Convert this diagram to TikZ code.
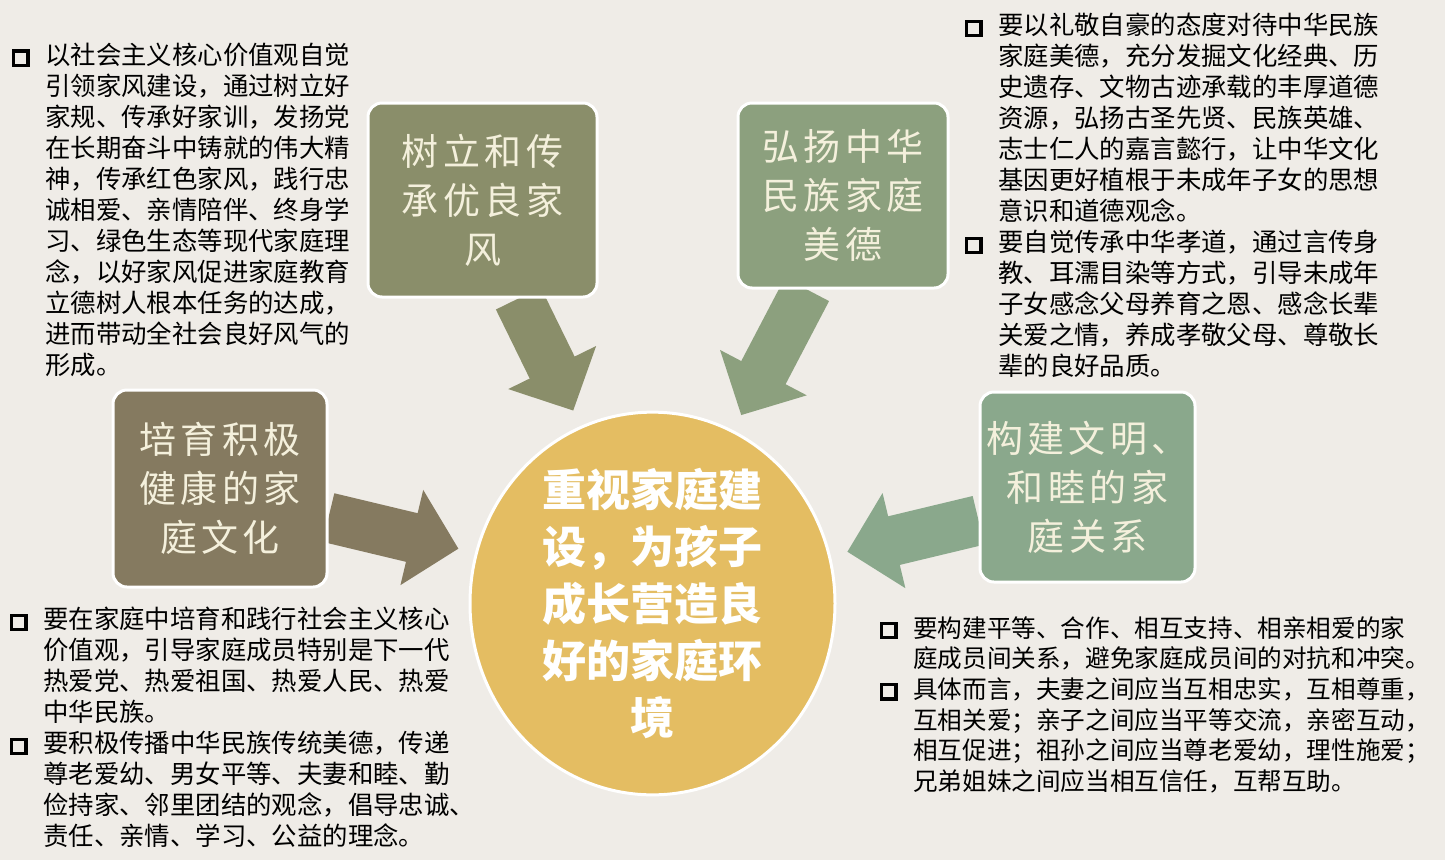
\documentclass[tikz,border=0pt]{standalone}
\usepackage{fontspec}
\usepackage{tikz}
\usetikzlibrary{arrows.meta, shapes.geometric, backgrounds}
\definecolor{paper}{HTML}{EFECE7}
\definecolor{olivebox}{HTML}{8A8E6A}
\definecolor{sagebox}{HTML}{8CA07E}
\definecolor{brownbox}{HTML}{857A60}
\definecolor{mintbox}{HTML}{8AA88C}
\definecolor{mustard}{HTML}{E4BD62}
\definecolor{cream}{HTML}{F4F0DC}
\newfontfamily\hei{Noto Sans CJK SC}
\newfontfamily\boxfont{Noto Sans CJK SC}[LetterSpace=12]
\newcommand{\sqbul}{\raisebox{1pt}{\setlength{\fboxrule}{3.2pt}\setlength{\fboxsep}{0pt}\fbox{\rule{0pt}{11pt}\hspace{11pt}}}}
\newcommand{\bl}{\makebox[33pt][l]{\sqbul}}
\newcommand{\ind}{\hspace*{33pt}}
\tikzset{
  topic/.style={draw=white, line width=3pt, rounded corners=14pt, text=cream,
    font=\boxfont\fontsize{37}{49}\selectfont, align=center, inner sep=0pt},
  notes/.style={anchor=north west, align=left, inner sep=0pt,
    font=\hei\fontsize{25.4}{31}\selectfont},
  flow/.style={line width=50pt, -{Triangle[length=48pt, width=95pt]}, shorten >=17pt},
}
\begin{document}
\begin{tikzpicture}[x=1pt, y=-1pt]
  \useasboundingbox (0,0) rectangle (1445,860);
  % --- four topic boxes round the hub ---
  \node[topic, fill=olivebox, minimum width=229pt, minimum height=194pt] (feng) at (482.5,200) {树立和传\\承优良家\\风};
  \node[topic, fill=sagebox, minimum width=210pt, minimum height=185pt] (mei) at (843,195.5) {弘扬中华\\民族家庭\\美德};
  \node[topic, fill=brownbox, minimum width=214pt, minimum height=197pt] (wenhua) at (220,488.5) {培育积极\\健康的家\\庭文化};
  \node[topic, fill=mintbox, minimum width=215pt, minimum height=190pt] (guanxi) at (1087.5,487) {构建文明、\\和睦的家\\庭关系};
  % --- hub ---
  \node[ellipse, draw=white, line width=3pt, fill=mustard, text=white, align=center,
    minimum width=365pt, minimum height=343pt, inner sep=0pt,
    font=\hei\bfseries\fontsize{44}{57}\selectfont] (huanjing) at (652.5,603.5)
    {重视家庭建\\设，为孩子\\成长营造良\\好的家庭环\\境};
  % --- block arrows (under the boxes) ---
  \begin{scope}[on background layer]
    \fill[paper] (0,0) rectangle (1445,860);
    \draw[flow, olivebox] (feng.-70) -- (huanjing.112);
    \draw[flow, sagebox] (mei.-111) -- (huanjing.65);
    \draw[flow, brownbox] (wenhua.-15) -- (huanjing.164);
    \draw[flow, mintbox] (guanxi.197) -- (huanjing.15);
  \end{scope}
  % --- notes ---
  \node[notes] (fengTxt) at (12,43) {\bl 以社会主义核心价值观自觉\\
    \ind 引领家风建设，通过树立好\\
    \ind 家规、传承好家训，发扬党\\
    \ind 在长期奋斗中铸就的伟大精\\
    \ind 神，传承红色家风，践行忠\\
    \ind 诚相爱、亲情陪伴、终身学\\
    \ind 习、绿色生态等现代家庭理\\
    \ind 念，以好家风促进家庭教育\\
    \ind 立德树人根本任务的达成，\\
    \ind 进而带动全社会良好风气的\\
    \ind 形成。};
  \node[notes] (meiTxt) at (965,13) {\bl 要以礼敬自豪的态度对待中华民族\\
    \ind 家庭美德，充分发掘文化经典、历\\
    \ind 史遗存、文物古迹承载的丰厚道德\\
    \ind 资源，弘扬古圣先贤、民族英雄、\\
    \ind 志士仁人的嘉言懿行，让中华文化\\
    \ind 基因更好植根于未成年子女的思想\\
    \ind 意识和道德观念。\\
    \bl 要自觉传承中华孝道，通过言传身\\
    \ind 教、耳濡目染等方式，引导未成年\\
    \ind 子女感念父母养育之恩、感念长辈\\
    \ind 关爱之情，养成孝敬父母、尊敬长\\
    \ind 辈的良好品质。};
  \node[notes] (wenhuaTxt) at (10,607) {\bl 要在家庭中培育和践行社会主义核心\\
    \ind 价值观，引导家庭成员特别是下一代\\
    \ind 热爱党、热爱祖国、热爱人民、热爱\\
    \ind 中华民族。\\
    \bl 要积极传播中华民族传统美德，传递\\
    \ind 尊老爱幼、男女平等、夫妻和睦、勤\\
    \ind 俭持家、邻里团结的观念，倡导忠诚、\\
    \ind 责任、亲情、学习、公益的理念。};
  \node[notes, font=\hei\fontsize{24.6}{30.7}\selectfont] (guanxiTxt) at (880,616) {\bl 要构建平等、合作、相互支持、相亲相爱的家\\
    \ind 庭成员间关系，避免家庭成员间的对抗和冲突。\\
    \bl 具体而言，夫妻之间应当互相忠实，互相尊重，\\
    \ind 互相关爱；亲子之间应当平等交流，亲密互动，\\
    \ind 相互促进；祖孙之间应当尊老爱幼，理性施爱；\\
    \ind 兄弟姐妹之间应当相互信任，互帮互助。};
\end{tikzpicture}
\end{document}
